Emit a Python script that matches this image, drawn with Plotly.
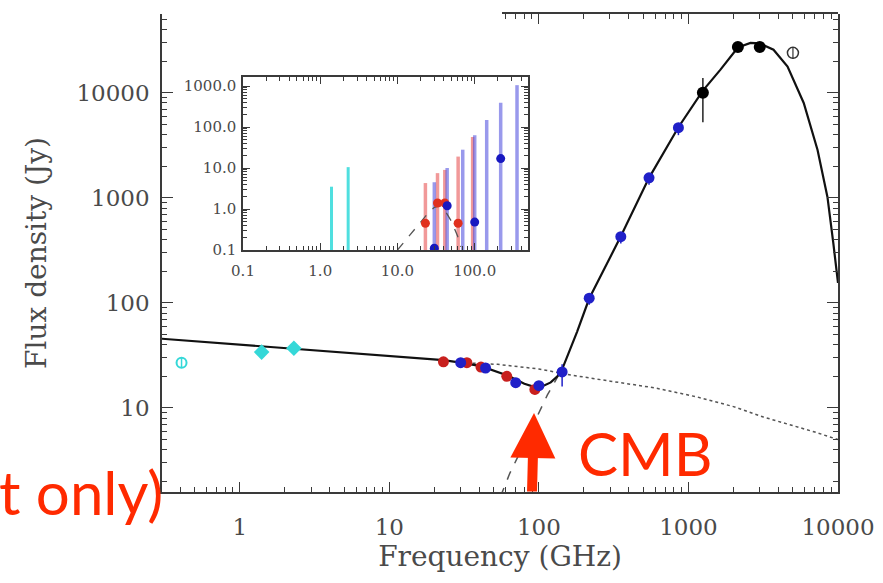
import plotly.graph_objects as go

# ---------------- main panel data ----------------
radio_freq = [1.4, 2.3]
radio_flux = [34, 37]
radio_err = [4, 4]

radio_open_freq = [0.408]
radio_open_flux = [27]
radio_open_err = [3]

wmap_freq = [23, 33, 41, 61, 94]
wmap_flux = [27.5, 27, 24.5, 20, 15]
wmap_err = [1.5, 1.5, 1.5, 1.5, 1.5]

planck_freq = [30, 44, 70, 100, 143, 217, 353, 545, 857]
planck_flux = [27, 24, 17.4, 16.3, 22, 111, 427, 1550, 4650]
planck_err_up = [1.5, 1.5, 1.5, 1.5, 4, 10, 40, 150, 450]
planck_err_dn = [1.5, 1.5, 1.5, 1.5, 6, 15, 60, 220, 700]

ir_freq = [1249, 2141, 2998]
ir_flux = [10000, 27300, 27300]
ir_err_up = [3800, 2500, 1500]
ir_err_dn = [4750, 2500, 1500]

ir_open_freq = [4997]
ir_open_flux = [24000]
ir_open_err = [3000]

model_freq = [0.3, 23, 30, 41, 61, 80, 94, 105, 120, 133, 145, 160, 180, 217,
              353, 545, 857, 1249, 1637, 2141, 2600, 3000, 3705, 4600, 5900,
              7300, 8500, 9300, 10000]
model_flux = [45.6, 28.5, 27, 25, 20.5, 17, 15.8, 16, 17.5, 20, 24.5, 35, 53, 110,
              430, 1550, 4700, 10500, 16600, 27000, 29800, 29500, 25700, 17800,
              8000, 2860, 1020, 372, 155]

sync_freq = [30, 53, 100, 163, 300, 600, 1150, 2000, 3170, 5000, 7000, 10000]
sync_flux = [27, 26, 23.5, 20.6, 18, 15.5, 12.7, 10.3, 8.2, 6.8, 5.9, 5.0]

cmb_freq = [50, 64, 80, 100, 114, 130, 145]
cmb_flux = [1.0, 2.4, 4.6, 9.0, 13.3, 18.5, 24.5]

x_tick_vals = [1, 10, 100, 1000, 10000]
x_tick_text = ["1", "10", "100", "1000", "10000"]
y_tick_vals = [10, 100, 1000, 10000]
y_tick_text = ["10", "100", "1000", "10000"]

# ---------------- inset data ----------------
in_cyan_freq = [1.4, 2.3]
in_cyan_hi = [3.5, 10.5]

in_wmap_freq = [23, 33, 41, 61, 94]
in_wmap_val = [0.45, 1.4, 1.4, 0.45, 0.05]
in_wmap_hi = [4.3, 7.5, 9, 19, 57]

in_planck_freq = [30, 44, 70, 100, 143, 217, 353]
in_planck_val = [0.11, 1.2, 0.05, 0.48, 0.05, 17, 0.05]
in_planck_hi = [4.5, 10, 28, 63, 148, 390, 1050]

in_model_freq = [10, 15, 20, 25, 30, 35, 40, 50, 60, 66]
in_model_flux = [0.1, 0.25, 0.5, 0.8, 1.1, 1.2, 1.0, 0.5, 0.22, 0.12]

in_floor = 0.05
in_x_tick_vals = [0.1, 1, 10, 100]
in_x_tick_text = ["0.1", "1.0", "10.0", "100.0"]
in_y_tick_vals = [0.1, 1, 10, 100, 1000]
in_y_tick_text = ["0.1", "1.0", "10.0", "100.0", "1000.0"]

# ---------------- styling ----------------
W, H = 883, 583
RED = "#C8201E"
BLUE = "#2020C8"
CYAN = "#35D8D8"
TXT = "#4a4a4a"
AX = "#3a3a3a"
FONT = "DejaVu Serif"
ANNOT = "#FF2A00"


def px_x(p):
    return p / W


def px_y(p):
    return 1 - p / H


fig = go.Figure()

# model curves
fig.add_trace(go.Scatter(x=sync_freq, y=sync_flux, mode="lines",
                         line=dict(color="#555555", width=1.5, dash="dot"),
                         xaxis="x", yaxis="y"))
fig.add_trace(go.Scatter(x=cmb_freq, y=cmb_flux, mode="lines",
                         line=dict(color="#555555", width=1.5, dash="dash"),
                         xaxis="x", yaxis="y"))
fig.add_trace(go.Scatter(x=model_freq, y=model_flux, mode="lines",
                         line=dict(color="#111111", width=2.2),
                         xaxis="x", yaxis="y"))

# data points
fig.add_trace(go.Scatter(x=radio_open_freq, y=radio_open_flux, mode="markers",
                         marker=dict(symbol="circle-open", size=10, color=CYAN,
                                     line=dict(width=2, color=CYAN)),
                         error_y=dict(type="data", array=radio_open_err, color=CYAN,
                                      thickness=1.5, width=0)))
fig.add_trace(go.Scatter(x=radio_freq, y=radio_flux, mode="markers",
                         marker=dict(symbol="diamond", size=12, color=CYAN),
                         error_y=dict(type="data", array=radio_err, color=CYAN,
                                      thickness=2, width=0)))
fig.add_trace(go.Scatter(x=wmap_freq, y=wmap_flux, mode="markers",
                         marker=dict(symbol="circle", size=11, color=RED),
                         error_y=dict(type="data", array=wmap_err, color=RED,
                                      thickness=1.5, width=0)))
fig.add_trace(go.Scatter(x=planck_freq, y=planck_flux, mode="markers",
                         marker=dict(symbol="circle", size=11, color=BLUE),
                         error_y=dict(type="data", symmetric=False, array=planck_err_up,
                                      arrayminus=planck_err_dn, color=BLUE,
                                      thickness=1.5, width=0)))
fig.add_trace(go.Scatter(x=ir_freq, y=ir_flux, mode="markers",
                         marker=dict(symbol="circle", size=12, color="black"),
                         error_y=dict(type="data", symmetric=False, array=ir_err_up,
                                      arrayminus=ir_err_dn, color="#222222",
                                      thickness=1.5, width=0)))
fig.add_trace(go.Scatter(x=ir_open_freq, y=ir_open_flux, mode="markers",
                         marker=dict(symbol="circle-open", size=11, color="#333333",
                                     line=dict(width=1.5, color="#333333")),
                         error_y=dict(type="data", array=ir_open_err, color="#333333",
                                      thickness=1.2, width=0)))

# anchor trace for partial top axis
fig.add_trace(go.Scatter(x=[1000], y=[1000], mode="markers", opacity=0,
                         marker=dict(size=1), xaxis="x3", yaxis="y", hoverinfo="skip"))


# ---------------- inset traces ----------------
def bars(freqs, his):
    xs, ys = [], []
    for f, h in zip(freqs, his):
        xs += [f, f, None]
        ys += [in_floor, h, None]
    return xs, ys


cx, cy = bars(in_cyan_freq, in_cyan_hi)
fig.add_trace(go.Scatter(x=cx, y=cy, mode="lines",
                         line=dict(color="rgba(60,220,220,0.9)", width=3),
                         xaxis="x2", yaxis="y2"))
wx, wy = bars(in_wmap_freq, in_wmap_hi)
fig.add_trace(go.Scatter(x=wx, y=wy, mode="lines",
                         line=dict(color="rgba(230,70,70,0.55)", width=3.5),
                         xaxis="x2", yaxis="y2"))
bx, by = bars(in_planck_freq, in_planck_hi)
fig.add_trace(go.Scatter(x=bx, y=by, mode="lines",
                         line=dict(color="rgba(70,70,220,0.55)", width=3.5),
                         xaxis="x2", yaxis="y2"))
fig.add_trace(go.Scatter(x=in_model_freq, y=in_model_flux, mode="lines",
                         line=dict(color="#555555", width=1.3, dash="dash"),
                         xaxis="x2", yaxis="y2"))
fig.add_trace(go.Scatter(x=in_wmap_freq, y=in_wmap_val, mode="markers",
                         marker=dict(symbol="circle", size=9, color="#E0301E"),
                         xaxis="x2", yaxis="y2"))
fig.add_trace(go.Scatter(x=in_planck_freq, y=in_planck_val, mode="markers",
                         marker=dict(symbol="circle", size=9, color="#1818C0"),
                         xaxis="x2", yaxis="y2"))

tickfont = dict(family=FONT, size=23, color=TXT)
intickfont = dict(family=FONT, size=15, color=TXT)

common = dict(type="log", showgrid=False, zeroline=False, showline=True,
              linecolor=AX, linewidth=1.5, ticks="inside", tickcolor=AX,
              tickwidth=1.2, automargin=False)

fig.update_layout(
    width=W, height=H,
    margin=dict(l=0, r=0, t=0, b=0),
    paper_bgcolor="white", plot_bgcolor="rgba(0,0,0,0)",
    showlegend=False,
    xaxis=dict(**common, domain=[px_x(162), px_x(838)], range=[-0.52, 4.0],
               anchor="y", mirror=False, ticklen=10,
               tickvals=x_tick_vals, ticktext=x_tick_text, tickfont=tickfont,
               ticklabelstandoff=14,
               minor=dict(ticks="inside", ticklen=5, tickcolor=AX, dtick="D1", showgrid=False),
               title=dict(text="Frequency (GHz)", font=dict(family=FONT, size=28, color=TXT),
                          standoff=6)),
    yaxis=dict(**common, domain=[px_y(492), px_y(14)], range=[0.2, 4.75],
               anchor="x", mirror="ticks", ticklen=11,
               tickvals=y_tick_vals, ticktext=y_tick_text, tickfont=tickfont,
               ticklabelstandoff=6,
               minor=dict(ticks="inside", ticklen=5, tickcolor=AX, dtick="D1", showgrid=False),
               title=dict(text="Flux density (Jy)", font=dict(family=FONT, size=28, color=TXT),
                          standoff=22)),
    xaxis3=dict(**common, domain=[px_x(502), px_x(838)], range=[1.756, 4.0],
                anchor="y", side="top", ticklen=10, showticklabels=False,
                tickvals=x_tick_vals,
                minor=dict(ticks="inside", ticklen=5, tickcolor=AX, dtick="D1", showgrid=False)),
    xaxis2=dict(**common, domain=[px_x(243), px_x(528)], range=[-1, 2.69],
                anchor="y2", mirror="ticks", ticklen=7,
                tickvals=in_x_tick_vals, ticktext=in_x_tick_text, tickfont=intickfont,
                ticklabelstandoff=6,
                minor=dict(ticks="inside", ticklen=4, tickcolor=AX, dtick="D1", showgrid=False)),
    yaxis2=dict(**common, domain=[px_y(250), px_y(77)], range=[-1, 3.22],
                anchor="x2", mirror="ticks", ticklen=7,
                tickvals=in_y_tick_vals, ticktext=in_y_tick_text, tickfont=intickfont,
                ticklabelstandoff=2,
                minor=dict(ticks="inside", ticklen=4, tickcolor=AX, dtick="D1", showgrid=False)),
)

# slide annotations
fig.add_annotation(x=px_x(534), y=px_y(413), xref="paper", yref="paper",
                   text="", showarrow=True, ax=-2, ay=80, axref="pixel", ayref="pixel",
                   arrowhead=2, arrowsize=0.9, arrowwidth=10, arrowcolor=ANNOT,
                   standoff=0, startstandoff=0)
fig.add_annotation(x=px_x(576), y=px_y(453), xref="paper", yref="paper",
                   text="CMB", showarrow=False, xanchor="left", yanchor="middle",
                   font=dict(family="Lato", size=60, color=ANNOT))
fig.add_annotation(x=px_x(165), y=px_y(492), xref="paper", yref="paper",
                   text="t only)", showarrow=False, xanchor="right", yanchor="middle",
                   font=dict(family="Lato", size=60, color=ANNOT))

fig.write_html("out.html", config={"displayModeBar": False},
               post_script="document.body.style.margin='0';document.body.style.overflow='hidden';")
